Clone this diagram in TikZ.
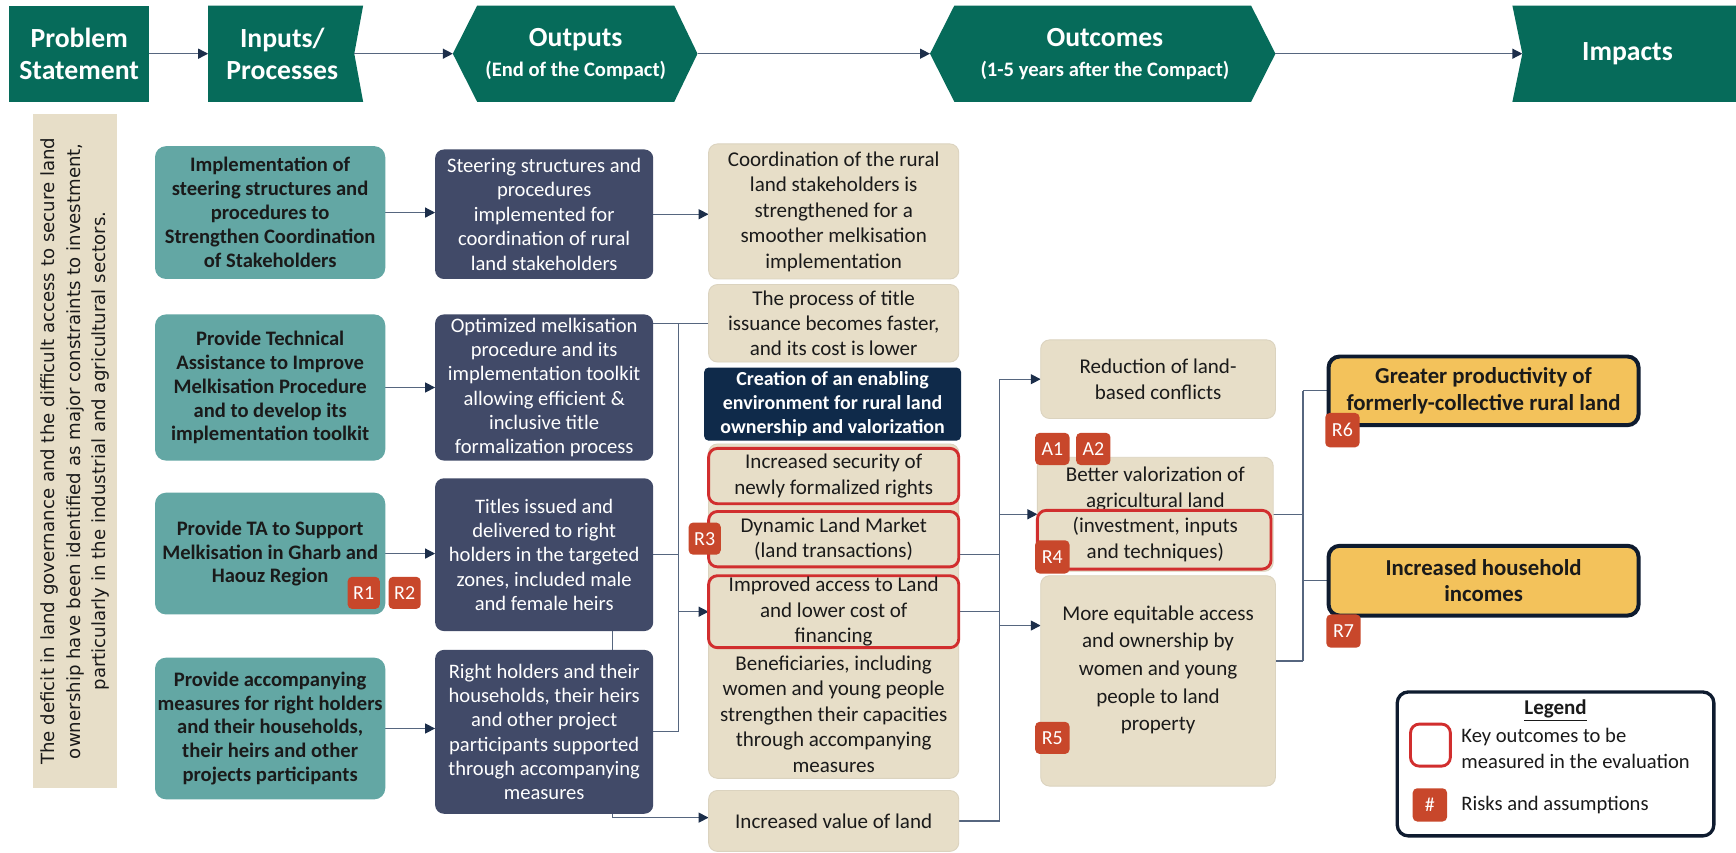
\documentclass[tikz,border=0pt]{standalone}
\usepackage{fontspec}
\setmainfont{Carlito}
\newfontfamily\vfont{DejaVu Sans}
\usetikzlibrary{arrows.meta,calc}
\pgfdeclarelayer{bg}
\pgfsetlayers{bg,main}
\definecolor{hdrc}{HTML}{066B5A}
\definecolor{tealc}{HTML}{63A7A4}
\definecolor{slatec}{HTML}{414A68}
\definecolor{beigec}{HTML}{E7DEC8}
\definecolor{navyc}{HTML}{0F2A4A}
\definecolor{redc}{HTML}{D12E2E}
\definecolor{badgec}{HTML}{C8472B}
\definecolor{yellowc}{HTML}{F3C25B}
\definecolor{darkc}{HTML}{0E1B2F}
\definecolor{linec}{HTML}{56667F}
\definecolor{arrowc}{HTML}{1C2E4A}
\definecolor{txtc}{HTML}{1A1A1A}
\newcommand{\hdrsubfont}{\fontsize{9.3}{10.5}\selectfont}
\newcommand{\bx}[7]{\node[#6, minimum width={(#4-(#2))*0.5pt}, minimum height={(#5-(#3))*0.5pt}] (#1) at ({(#2+#4)/2},{(#3+#5)/2}) {#7};}
\begin{document}
\begin{tikzpicture}[x=0.5pt,y=-0.5pt,
  every node/.style={inner sep=0pt, outer sep=0pt},
  hdrtext/.style={text=white, font=\fontsize{12.5}{14.5}\selectfont\bfseries, align=center},
  inbox/.style={fill=tealc, rounded corners=5pt, align=center, text=txtc, font=\fontsize{9.3}{10.8}\selectfont\bfseries},
  outbox/.style={fill=slatec, rounded corners=4pt, align=center, text=white, font=\fontsize{9.3}{11}\selectfont},
  ocbox/.style={fill=beigec, draw=beigec!88!gray, line width=0.4pt, rounded corners=4pt, align=center, text=txtc, font=\fontsize{9.5}{11.5}\selectfont},
  keybox/.style={ocbox, draw=redc, line width=1.3pt},
  keyframe/.style={draw=redc, line width=1.3pt, rounded corners=4pt},
  navybox/.style={fill=navyc, rounded corners=2pt, align=center, text=white, font=\fontsize{9}{11}\selectfont\bfseries},
  impbox/.style={fill=yellowc, draw=darkc, line width=1.8pt, rounded corners=5pt, align=center, text=txtc, font=\fontsize{10.3}{12}\selectfont\bfseries},
  badge/.style={fill=badgec, rounded corners=2pt, text=white, font=\fontsize{9}{10}\selectfont},
  legbox/.style={fill=white, draw=darkc, line width=1.5pt, rounded corners=5pt},
  conn/.style={draw=linec, line width=0.6pt},
  arr/.style={conn, -{Triangle[length=4.5pt,width=4.5pt,color=arrowc]}}
]
\useasboundingbox (0,0) rectangle (1568,770);
\begin{pgfonlayer}{bg}
\fill[white] (0,0) rectangle (1568,770);
\end{pgfonlayer}

% ---------------- header ----------------
\fill[hdrc] (8,5) rectangle (135,92);
\fill[hdrc] (188,5) -- (328,5) -- (320,48.5) -- (328,92) -- (188,92) -- cycle;
\fill[hdrc] (409,48.5) -- (431,5) -- (609,5) -- (630,48.5) -- (609,92) -- (431,92) -- cycle;
\fill[hdrc] (840,48.5) -- (862,5) -- (1130,5) -- (1152,48.5) -- (1130,92) -- (862,92) -- cycle;
\fill[hdrc] (1366,5) -- (1568,5) -- (1568,92) -- (1366,92) -- (1375,48.5) -- cycle;
\node[hdrtext] (hps) at (71.5,48.5) {Problem\\Statement};
\node[hdrtext] (hin) at (255,48.5) {Inputs/\\Processes};
\node[hdrtext] (hout) at (520,48.5) {Outputs\\[-1pt]{\hdrsubfont (End of the Compact)}};
\node[hdrtext] (hoc) at (998,48.5) {Outcomes\\[-1pt]{\hdrsubfont (1-5 years after the Compact)}};
\node[hdrtext] (himp) at (1470,48.5) {Impacts};
\coordinate (psE) at (135,48.5);
\coordinate (inW) at (188,48.5);
\coordinate (inE) at (320,48.5);
\coordinate (outW) at (409,48.5);
\coordinate (outE) at (630,48.5);
\coordinate (ocW) at (840,48.5);
\coordinate (ocE) at (1152,48.5);
\coordinate (impW) at (1375,48.5);
\draw[arr] (psE) -- (inW);
\draw[arr] (inE) -- (outW);
\draw[arr] (outE) -- (ocW);
\draw[arr] (ocE) -- (impW);

% ---------------- problem statement ----------------
\node[fill=beigec, rotate=90, align=center, text=txtc, font=\vfont\fontsize{8.2}{11.5}\selectfont,
  minimum width={(712-103)*0.5pt}, minimum height={(106-30)*0.5pt}] (ps) at (68,407.5)
  {The deficit in land governance and the difficult access to secure land\\ownership have been identified as major constraints to investment,\\particularly in the industrial and agricultural sectors.};

% ---------------- inputs ----------------
\bx{I1}{140}{132}{348}{252}{inbox}{Implementation of\\steering structures and\\procedures to\\Strengthen Coordination\\of Stakeholders}
\bx{I2}{140}{284}{348}{416}{inbox}{Provide Technical\\Assistance to Improve\\Melkisation Procedure\\and to develop its\\implementation toolkit}
\bx{I3}{140}{445}{348}{555}{inbox}{Provide TA to Support\\Melkisation in Gharb and\\Haouz Region}
\bx{I4}{140}{594}{348}{722}{inbox}{Provide accompanying\\measures for right holders\\and their households,\\their heirs and other\\projects participants}

% ---------------- outputs ----------------
\bx{O1}{393}{135}{590}{252}{outbox}{Steering structures and\\procedures\\implemented for\\coordination of rural\\land stakeholders}
\bx{O2}{393}{284}{590}{416}{outbox}{Optimized melkisation\\procedure and its\\implementation toolkit\\allowing efficient \&\\inclusive title\\formalization process}
\bx{O3}{393}{432}{590}{570}{outbox}{Titles issued and\\delivered to right\\holders in the targeted\\zones, included male\\and female heirs}
\bx{O4}{393}{587}{590}{735}{outbox}{Right holders and their\\households, their heirs\\and other project\\participants supported\\through accompanying\\measures}

% ---------------- outcomes column 1 ----------------
\bx{C1}{640}{130}{866}{252}{ocbox}{Coordination of the rural\\land stakeholders is\\strengthened for a\\smoother melkisation\\implementation}
\bx{C2}{640}{257}{866}{327}{ocbox}{The process of title\\issuance becomes faster,\\and its cost is lower}
\bx{H}{636}{332}{868}{398}{navybox}{Creation of an enabling\\environment for rural land\\ownership and valorization}
\bx{grp}{640}{401}{866}{703}{ocbox}{}
\bx{RA}{640}{405}{866}{455}{keybox}{Increased security of\\newly formalized rights}
\bx{RB}{640}{462}{866}{512}{keybox}{Dynamic Land Market\\(land transactions)}
\bx{RC}{640}{520}{866}{585}{keybox}{Improved access to Land\\and lower cost of\\financing}
\node[align=center, text=txtc, font=\fontsize{9.5}{11.5}\selectfont] (ben) at (753,645) {Beneficiaries, including\\women and young people\\strengthen their capacities\\through accompanying\\measures};
\bx{CL}{640}{714}{866}{769}{ocbox}{Increased value of land}

% ---------------- outcomes column 2 ----------------
\bx{D1}{940}{307}{1152}{378}{ocbox}{Reduction of land-\\based conflicts}
\bx{D2}{937}{413}{1150}{516}{ocbox}{Better valorization of\\agricultural land\\(investment, inputs\\and techniques)}
\bx{D2k}{937}{461}{1148}{514}{keyframe}{}
\bx{D3}{940}{520}{1152}{710}{ocbox, font=\fontsize{9.5}{12.5}\selectfont}{More equitable access\\and ownership by\\women and young\\people to land\\property\\[-1pt]}

% ---------------- impacts ----------------
\bx{E1}{1200}{322}{1480}{384}{impbox}{Greater productivity of\\formerly-collective rural land}
\bx{E2}{1200}{493}{1480}{556}{impbox}{Increased household\\incomes}

% ---------------- badges ----------------
\bx{R1}{314}{521}{343}{550}{badge}{R1}
\bx{R2}{351}{521}{380}{550}{badge}{R2}
\bx{R3}{622}{472}{651}{501}{badge}{R3}
\bx{A1}{935}{391}{966}{420}{badge}{A1}
\bx{A2}{972}{391}{1003}{420}{badge}{A2}
\bx{R4}{935}{488}{966}{518}{badge}{R4}
\bx{R5}{935}{652}{966}{681}{badge}{R5}
\bx{R6}{1197}{373}{1228}{404}{badge}{R6}
\bx{R7}{1198}{555}{1229}{585}{badge}{R7}

% ---------------- legend ----------------
\bx{leg}{1262}{625}{1548}{755}{legbox}{}
\node[font=\fontsize{9.5}{11}\selectfont\bfseries, text=txtc] (legt) at (1405,642) {\underline{Legend}};
\bx{legk}{1274}{654}{1310}{692}{keyframe}{}
\node[anchor=west, align=left, font=\fontsize{9.3}{11.5}\selectfont, text=txtc] (legkt) at (1320,676) {Key outcomes to be\\measured in the evaluation};
\bx{legr}{1276}{712}{1307}{742}{badge}{\#}
\node[anchor=west, font=\fontsize{9.3}{11.5}\selectfont, text=txtc] (legrt) at (1320,727) {Risks and assumptions};

% ---------------- connectors ----------------
\coordinate (busA) at (613,0);
\coordinate (busB) at (553,0);
\coordinate (busC) at (903,0);
\coordinate (busD) at (1177,0);
\coordinate (rbE) at ([yshift=-7pt]RB.east);
\coordinate (d3W) at ([yshift=25pt]D3.west);
\coordinate (d3E) at ([yshift=9pt]D3.east);
\coordinate (clW) at ([yshift=1.5pt]CL.west);
\begin{pgfonlayer}{bg}
\draw[arr] (I1.east) -- (I1.east -| O1.west);
\draw[arr] (I2.east) -- (I2.east -| O2.west);
\draw[arr] (I3.east) -- (I3.east -| O3.west);
\draw[arr] (I4.east) -- (I4.east -| O4.west);
\draw[arr] (O1.east) -- (O1.east -| C1.west);
\draw[conn] (C2.west) -- (C2.west -| O2.east);
\draw[conn] (busA |- C2.west) -- (busA |- O4.east);
\draw[conn] (O3.east) -- (busA |- O3.east);
\draw[conn] (O4.east) -- (busA |- O4.east);
\draw[arr] (busA |- RC.west) -- (RC.west);
\draw[arr] (busB |- O3.south) -- (busB |- clW) -- (clW);
\draw[conn] (rbE) -- (busC |- rbE);
\draw[conn] (RC.east) -- (busC |- RC.east);
\draw[conn] (CL.east) -- (busC |- CL.east);
\draw[conn] (busC |- D1.west) -- (busC |- CL.east);
\draw[arr] (busC |- D1.west) -- (D1.west);
\draw[arr] (busC |- D2.west) -- (D2.west);
\draw[arr] (busC |- d3W) -- (d3W);
\draw[conn] (D2.east) -- (busD |- D2.east);
\draw[conn] (d3E) -- (busD |- d3E);
\draw[conn] (busD |- E1.west) -- (busD |- d3E);
\draw[conn] (busD |- E1.west) -- (E1.west);
\draw[conn] (busD |- E2.west) -- (E2.west);
\end{pgfonlayer}
\end{tikzpicture}
\end{document}
